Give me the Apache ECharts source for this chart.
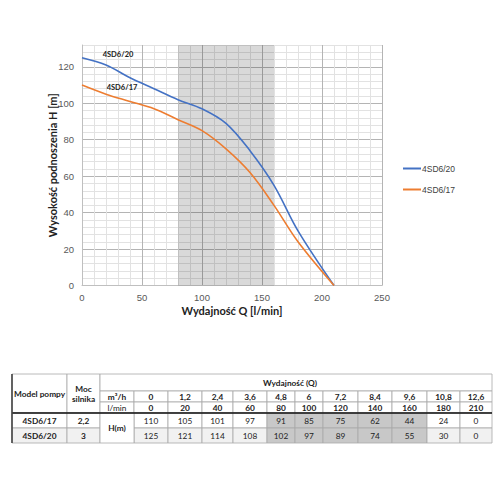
<!DOCTYPE html>
<html><head><meta charset="utf-8">
<script src="https://cdn.jsdelivr.net/npm/echarts@6/dist/echarts.min.js"></script>
<style>html,body{margin:0;padding:0;background:#fff}#c{width:500px;height:500px}</style>
</head><body><div id="c"></div>
<script>
// ---- data ----
const flowLmin = [0, 20, 40, 60, 80, 100, 120, 140, 160, 180, 210];
const flowM3h = ['0', '1,2', '2,4', '3,6', '4,8', '6', '7,2', '8,4', '9,6', '10,8', '12,6'];
const head17 = [110, 105, 101, 97, 91, 85, 75, 62, 44, 24, 0];
const head20 = [125, 121, 114, 108, 102, 97, 89, 74, 55, 30, 0];
const models = ['4SD6/17', '4SD6/20'];
const motorPower = ['2,2', '3'];
const workRange = [80, 160];
const seriesNames = ['4SD6/20', '4SD6/17'];

// ---- layout ----
const FONT = 'Lato, "Open Sans", sans-serif';
const TICKFONT = '"Liberation Sans", Arial, sans-serif';
const colX = [12, 67, 100, 134, 168, 202, 233, 267, 295, 323, 358, 392, 427, 460, 492];
const rowY = [374, 391, 402, 413, 428, 443];
const shadedFirst = flowLmin.indexOf(workRange[0]);
const shadedLast = flowLmin.indexOf(workRange[1]);

const gridMajor = '#b4b4b4', gridMinor = '#e2e2e2';
const lineColors = [gridMajor, gridMinor, gridMinor, gridMinor, gridMinor];

const graphics = [];
function cell(x0, y0, x1, y1, fill, text, style) {
  graphics.push({
    type: 'rect', shape: { x: x0, y: y0, width: x1 - x0, height: y1 - y0 },
    style: { fill: fill, stroke: '#a8a8a8', lineWidth: 0.8 }, silent: true
  });
  if (text !== undefined && text !== null) {
    graphics.push({
      type: 'text', x: (x0 + x1) / 2, y: (y0 + y1) / 2, silent: true,
      style: Object.assign({
        text: String(text), align: 'center', verticalAlign: 'middle',
        fontFamily: FONT, fontSize: 8.3, fill: '#222'
      }, style || {})
    });
  }
}
const bold = { fontWeight: 'bold' };
// header
cell(colX[0], rowY[0], colX[1], rowY[3], '#fff', 'Model pompy', bold);
cell(colX[1], rowY[0], colX[2], rowY[3], '#fff', 'Moc\nsilnika', Object.assign({ lineHeight: 10 }, bold));
cell(colX[2], rowY[0], colX[14], rowY[1], '#fff', null);
graphics.push({ type: 'text', x: 290, y: (rowY[0] + rowY[1]) / 2, silent: true,
  style: { text: 'Wydajność (Q)', align: 'center', verticalAlign: 'middle', fontFamily: FONT, fontSize: 8.3, fontWeight: 'bold', fill: '#222' } });
cell(colX[2], rowY[1], colX[3], rowY[2], '#fff', 'm³/h', bold);
cell(colX[2], rowY[2], colX[3], rowY[3], '#fff', 'l/min', { fontWeight: 'normal' });
flowM3h.forEach((v, i) => cell(colX[3 + i], rowY[1], colX[4 + i], rowY[2], '#fff', v, bold));
flowLmin.forEach((v, i) => cell(colX[3 + i], rowY[2], colX[4 + i], rowY[3], '#fff', v, bold));
// data rows
const rows = [head17, head20];
rows.forEach((vals, r) => {
  const y0 = rowY[3 + r], y1 = rowY[4 + r];
  const base = r === 1 ? '#f1f1f1' : '#fff';
  cell(colX[0], y0, colX[1], y1, base, models[r], bold);
  cell(colX[1], y0, colX[2], y1, base, motorPower[r], bold);
  vals.forEach((v, i) => {
    const shaded = i >= shadedFirst && i <= shadedLast;
    cell(colX[3 + i], y0, colX[4 + i], y1, shaded ? '#c8c8c8' : base, v);
  });
});
cell(colX[2], rowY[3], colX[3], rowY[5], '#fff', 'H(m)', bold);
graphics.push({ type: 'line', silent: true, shape: { x1: colX[0], y1: rowY[3], x2: colX[14], y2: rowY[3] }, style: { stroke: '#111', lineWidth: 1.6 } });
graphics.push({ type: 'line', silent: true, shape: { x1: colX[0], y1: rowY[0], x2: colX[0], y2: rowY[5] }, style: { stroke: '#444', lineWidth: 1.6 } });
// curve labels inside the plot
graphics.push({ type: 'text', x: 118, y: 54, z: 10, silent: true, style: { text: seriesNames[0], align: 'center', verticalAlign: 'middle', fontFamily: FONT, fontSize: 7.5, fontWeight: 'bold', fill: '#222' } });
graphics.push({ type: 'text', x: 122, y: 87, z: 10, silent: true, style: { text: seriesNames[1], align: 'center', verticalAlign: 'middle', fontFamily: FONT, fontSize: 7.5, fontWeight: 'bold', fill: '#222' } });

const chart = echarts.init(document.getElementById('c'), null, { renderer: 'svg' });
chart.setOption({
  animation: false,
  backgroundColor: '#fff',
  grid: { left: 82, right: 118, top: 45, bottom: 214.5, containLabel: false },
  legend: {
    orient: 'vertical', left: 403, top: 164, itemGap: 12, padding: 0,
    icon: 'rect', itemWidth: 18, itemHeight: 2,
    textStyle: { fontFamily: TICKFONT, fontSize: 8.5, color: '#404040', padding: [0, 0, 0, -4] },
    data: seriesNames
  },
  xAxis: {
    type: 'value', min: 0, max: 250, interval: 10,
    name: 'Wydajność Q [l/min]', nameLocation: 'middle', nameGap: 19,
    nameTextStyle: { fontFamily: FONT, fontWeight: 'bold', fontSize: 11, color: '#222' },
    axisLine: { show: true, lineStyle: { color: '#bfbfbf' } },
    axisTick: { show: false },
    axisLabel: { formatter: v => (v % 50 === 0 ? String(v) : ''), fontFamily: TICKFONT, fontSize: 9.5, color: '#595959', margin: 7 },
    splitLine: { show: true, lineStyle: { color: lineColors, width: 1 } }
  },
  yAxis: {
    type: 'value', min: 0, max: 132, interval: 4,
    name: 'Wysokość podnoszenia H [m]', nameLocation: 'middle', nameGap: 24,
    nameMoveOverlap: false,
    nameTextStyle: { fontFamily: FONT, fontWeight: 'bold', fontSize: 11, color: '#222' },
    axisLine: { show: true, lineStyle: { color: '#bfbfbf' } },
    axisTick: { show: false },
    axisLabel: { formatter: v => (v % 20 === 0 ? String(v) : ''), fontFamily: TICKFONT, fontSize: 9.5, color: '#595959', margin: 8 },
    splitLine: { show: true, lineStyle: { color: lineColors, width: 1 } }
  },
  series: [
    {
      name: seriesNames[0], type: 'line', smooth: 0.35, symbol: 'none',
      data: flowLmin.map((q, i) => [q, head20[i]]),
      lineStyle: { color: '#4472c4', width: 1.6 }, itemStyle: { color: '#4472c4' },
      z: 3,
      markArea: {
        silent: true, itemStyle: { color: 'rgba(0,0,0,0.15)' },
        data: [[{ xAxis: workRange[0] }, { xAxis: workRange[1] }]]
      }
    },
    {
      name: seriesNames[1], type: 'line', smooth: 0.35, symbol: 'none',
      data: flowLmin.map((q, i) => [q, head17[i]]),
      lineStyle: { color: '#ed7d31', width: 1.6 }, itemStyle: { color: '#ed7d31' },
      z: 3
    }
  ],
  graphic: graphics
});
</script>
</body></html>
